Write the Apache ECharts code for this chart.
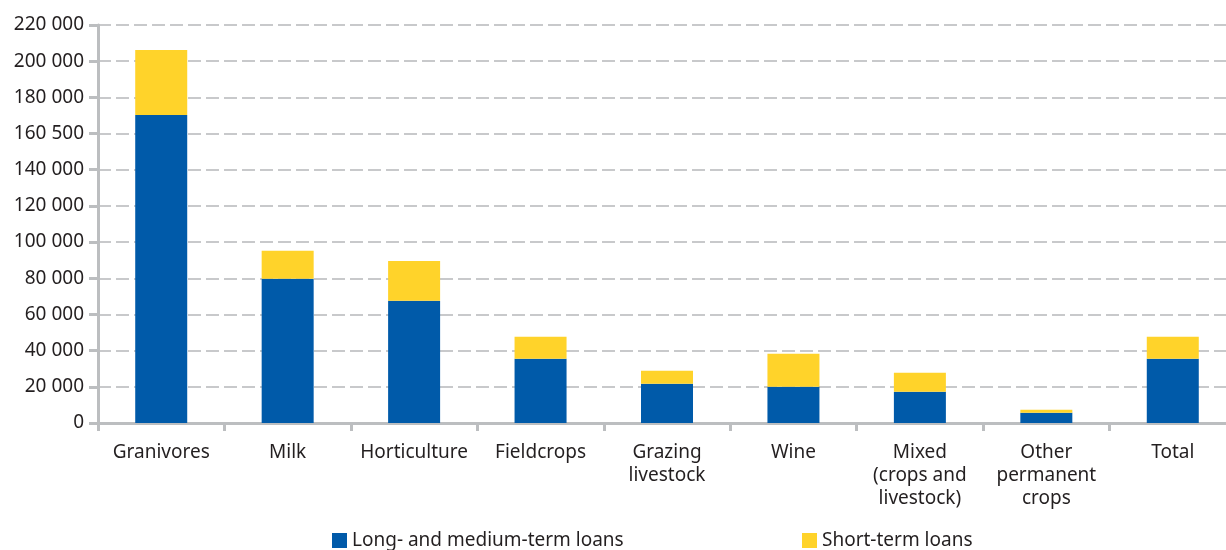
<!DOCTYPE html>
<html>
<head>
<meta charset="utf-8">
<script src="https://cdn.jsdelivr.net/npm/echarts@6/dist/echarts.min.js"></script>
<style>
html,body{margin:0;padding:0;background:#ffffff;overflow:hidden;width:1226px;height:550px;}
#chart{width:1240px;height:550px;}
</style>
</head>
<body>
<div id="chart"></div>
<script>
// Data
const categories = ['Granivores', 'Milk', 'Horticulture', 'Fieldcrops', 'Grazing\nlivestock', 'Wine', 'Mixed\n(crops and\nlivestock)', 'Other\npermanent\ncrops', 'Total'];
const longMediumTerm = [170300, 79700, 67600, 35500, 21700, 20100, 17300, 5700, 35500];
const shortTerm = [35900, 15500, 22000, 12200, 7200, 18200, 10500, 1600, 12200];
const yTickLabels = ['0', '20 000', '40 000', '60 000', '80 000', '100 000', '120 000', '140 000', '160 500', '180 000', '200 000', '220 000'];
const seriesNames = ['Long- and medium-term loans', 'Short-term loans'];

const FONT = 'Noto Sans';
const TEXT = '#231f20';
const AXIS = '#bcbec0';

const chart = echarts.init(document.getElementById('chart'));
chart.setOption({
  animation: false,
  backgroundColor: '#ffffff',
  textStyle: { fontFamily: FONT },
  grid: { left: 98, right: 4, top: 25, bottom: 127, containLabel: false },
  legend: [
    {
      data: [seriesNames[0]], left: 332, top: 531, padding: 0, itemWidth: 15, itemHeight: 15, itemGap: 8,
      icon: 'rect', textStyle: { fontFamily: FONT, fontSize: 19, color: TEXT }
    },
    {
      data: [seriesNames[1]], left: 802, top: 531, padding: 0, itemWidth: 15, itemHeight: 15, itemGap: 8,
      icon: 'rect', textStyle: { fontFamily: FONT, fontSize: 19, color: TEXT }
    }
  ],
  xAxis: {
    type: 'category',
    data: categories,
    boundaryGap: true,
    axisLine: { show: true, lineStyle: { color: AXIS, width: 3 } },
    axisTick: { show: true, length: 8, lineStyle: { color: AXIS, width: 3 } },
    axisLabel: { interval: 0, color: TEXT, fontFamily: FONT, fontSize: 19, lineHeight: 23, margin: 18 },
    splitLine: { show: false }
  },
  yAxis: {
    type: 'value',
    min: 0, max: 220000, interval: 20000,
    axisLine: { show: true, lineStyle: { color: AXIS, width: 3 } },
    axisTick: { show: true, length: 9, lineStyle: { color: AXIS, width: 3 } },
    axisLabel: {
      color: TEXT, fontFamily: FONT, fontSize: 19, margin: 14,
      formatter: function (v) { return yTickLabels[Math.round(v / 20000)]; }
    },
    splitLine: { show: true, lineStyle: { color: '#c8c9cb', width: 2, type: [13, 5] } }
  },
  series: [
    {
      name: seriesNames[0], type: 'bar', stack: 'loans', data: longMediumTerm,
      barWidth: 52, itemStyle: { color: '#005aa9' }
    },
    {
      name: seriesNames[1], type: 'bar', stack: 'loans', data: shortTerm,
      barWidth: 52, itemStyle: { color: '#ffd32a' }
    }
  ]
});
</script>
</body>
</html>
